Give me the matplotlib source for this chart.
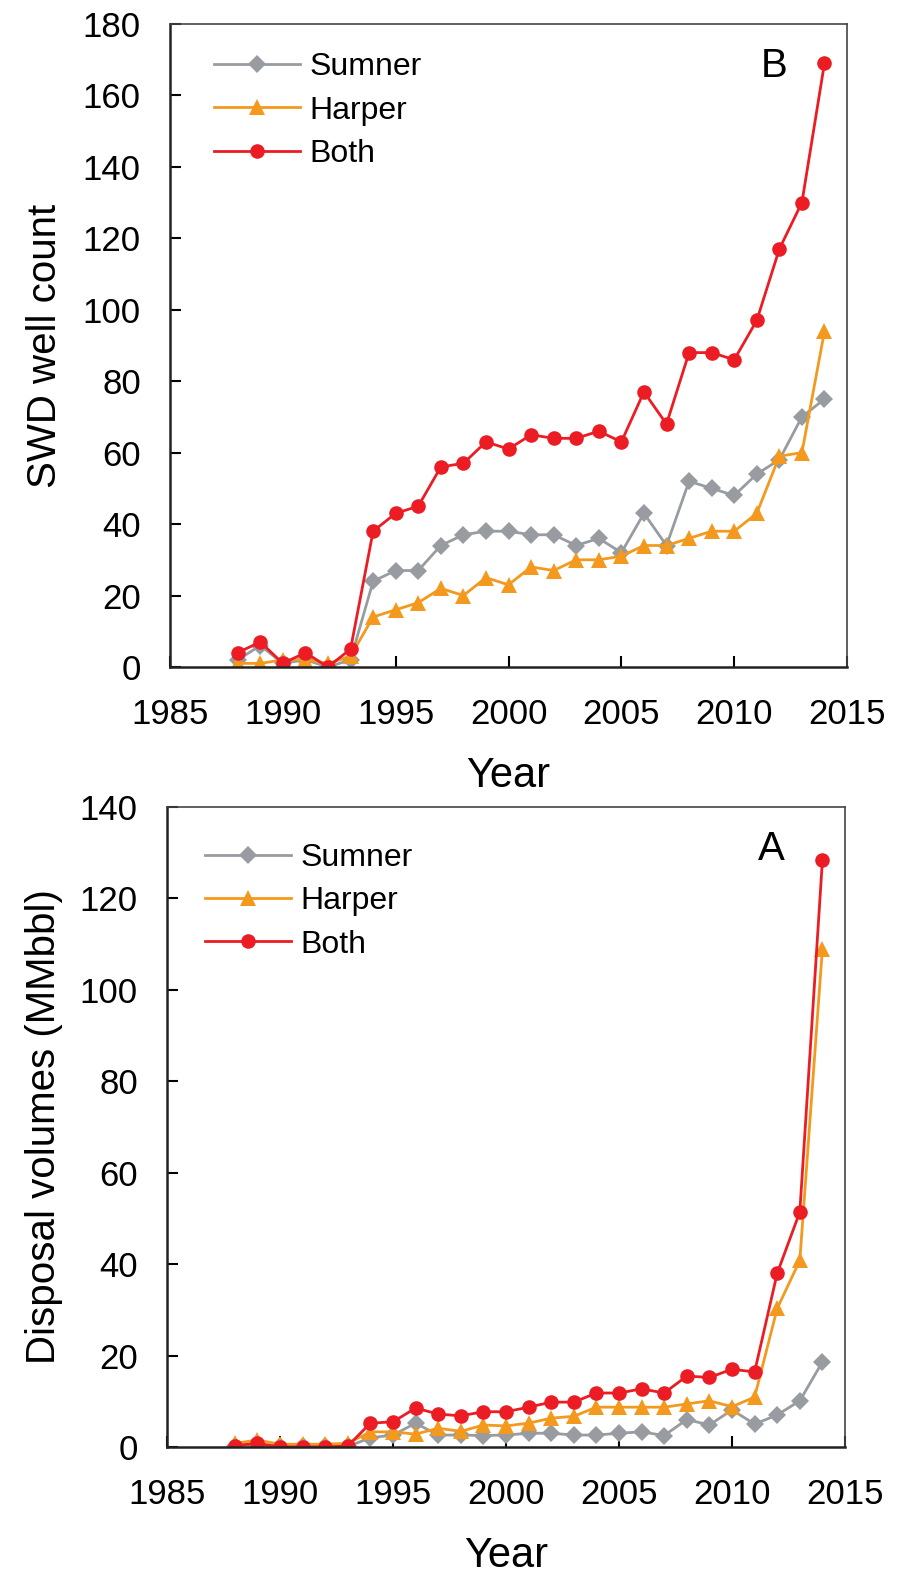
import matplotlib
matplotlib.use('Agg')
import matplotlib.pyplot as plt

plt.rcParams['font.family'] = ['Liberation Sans', 'DejaVu Sans']

years = list(range(1988, 2015))

# well counts per year
wells_sumner = [2, 6, 1, 2, 0, 2, 24, 27, 27, 34, 37, 38, 38, 37, 37, 34, 36, 32, 43, 34, 52, 50, 48, 54, 58, 70, 75]
wells_harper = [1, 1, 2, 2, 1, 3, 14, 16, 18, 22, 20, 25, 23, 28, 27, 30, 30, 31, 34, 34, 36, 38, 38, 43, 59, 60, 94]
wells_both = [4, 7, 1, 4, 0, 5, 38, 43, 45, 56, 57, 63, 61, 65, 64, 64, 66, 63, 77, 68, 88, 88, 86, 97, 117, 130, 169]

# disposal volumes, million barrels
vol_sumner = [0.1, 0.2, 0.1, 0.1, 0.1, 0.1, 2.0, 2.6, 5.2, 2.6, 2.6, 2.5, 2.6, 3.0, 3.0, 2.6, 2.6, 3.0, 3.3, 2.5, 6.0, 4.8, 8.1, 5.0, 7.0, 10.1, 18.6]
vol_harper = [0.8, 1.5, 0.6, 0.6, 0.6, 0.8, 3.3, 3.3, 2.8, 4.1, 3.4, 4.8, 4.6, 5.2, 6.3, 6.7, 8.7, 8.7, 8.7, 8.7, 9.4, 10.1, 8.8, 10.9, 30.3, 40.8, 109]
vol_both = [0.3, 0.8, 0.0, 0.0, 0.0, 0.2, 5.2, 5.5, 8.5, 7.2, 6.8, 7.7, 7.7, 8.7, 9.8, 9.8, 11.8, 11.8, 12.7, 11.8, 15.5, 15.2, 17.0, 16.4, 38.0, 51.4, 128.3]

names = ['Sumner', 'Harper', 'Both']
colors = ['#989ca1', '#f39a1e', '#ec1c24']
markers = ['D', '^', 'o']
msizes = [9.5, 12, 10.5]

fig = plt.figure(figsize=(9.22, 15.85), dpi=100)
ax_top = fig.add_axes([0.1844, 0.5792, 0.7343, 0.4057])
ax_bot = fig.add_axes([0.1811, 0.0871, 0.7354, 0.4038])


def draw(ax, series, ymax, ylabel, letter, leg_xy, ylab_x):
    for vals, name, c, m, ms in zip(series, names, colors, markers, msizes):
        ax.plot(years, vals, color=c, marker=m, markersize=ms, lw=2,
                markeredgewidth=0, label=name)
    ax.set_xlim(1985, 2015)
    ax.set_ylim(0, ymax)
    ax.set_xticks(range(1985, 2016, 5))
    ax.set_yticks(range(0, ymax + 1, 20))
    ax.tick_params(direction='in', length=8, width=1.5, labelsize=25)
    ax.tick_params(axis='x', pad=22)
    ax.tick_params(axis='y', pad=21)
    for side in ['left', 'bottom']:
        ax.spines[side].set_linewidth(1.8)
        ax.spines[side].set_color('#222222')
    for side in ['top', 'right']:
        ax.spines[side].set_linewidth(1.2)
        ax.spines[side].set_color('#444444')
    ax.set_xlabel('Year', fontsize=30, va='center')
    ax.xaxis.set_label_coords(0.5, -0.17)
    ax.set_ylabel(ylabel, fontsize=29, va='center')
    ax.yaxis.set_label_coords(ylab_x, 0.5)
    ax.text(0.892, 0.935, letter, transform=ax.transAxes, fontsize=29,
            ha='center', va='center')
    ax.legend(loc='upper left', bbox_to_anchor=leg_xy, frameon=False,
              fontsize=23, handlelength=2.7, handletextpad=0.3,
              labelspacing=0.42, borderpad=0, borderaxespad=0)


draw(ax_top, [wells_sumner, wells_harper, wells_both], 180,
     'SWD well count', 'B', (0.065, 0.956), -0.185)
draw(ax_bot, [vol_sumner, vol_harper, vol_both], 140,
     'Disposal volumes (MMbbl)', 'A', (0.056, 0.944), -0.181)

fig.savefig('out.png', dpi=100)
